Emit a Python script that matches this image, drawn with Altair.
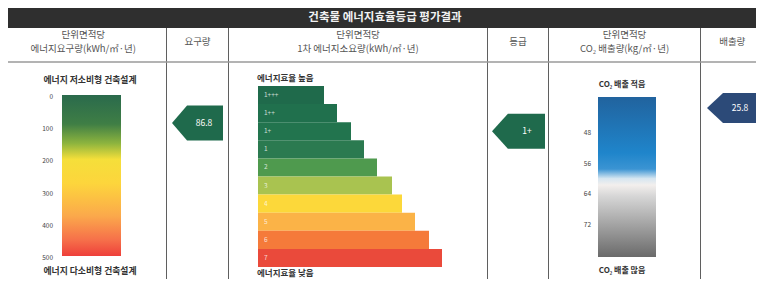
import altair as alt
import pandas as pd

FONT = "Noto Sans CJK KR"

# ---------------- data ----------------
title = "건축물 에너지효율등급 평가결과"
col_headers = [
    ["단위면적당", "에너지요구량(kWh/㎡·년)"],
    ["요구량"],
    ["단위면적당", "1차 에너지소요량(kWh/㎡·년)"],
    ["등급"],
    ["단위면적당", "CO₂ 배출량(kg/㎡·년)"],
    ["배출량"],
]
energy_ticks = [0, 100, 200, 300, 400, 500]
energy_value = 86.8
energy_labels = ["에너지 저소비형 건축설계", "에너지 다소비형 건축설계"]

grades = ["1+++", "1++", "1+", "1", "2", "3", "4", "5", "6", "7"]
grade_value = "1+"
grade_labels = ["에너지효율 높음", "에너지효율 낮음"]

co2_ticks = [48, 56, 64, 72]
co2_value = 25.8
co2_labels = ["CO₂ 배출 적음", "CO₂ 배출 많음"]

# ---------------- styles / layout (reference pixel positions) ----------------
grade_colors = ["#1f6a4b", "#20704d", "#22744e", "#2b7a50", "#4f9a4e",
                "#a9c350", "#fcd83a", "#fbb347", "#f57a3a", "#ea4a3b"]
grade_bar_end = [324, 337, 351, 364, 377, 392, 402, 415, 429, 442]
col_bounds = [0, 166.5, 228.5, 487.5, 548.5, 700.5, 764]
header_line_y = [35, 48.5]
header_single_y = 42

XS = alt.Scale(domain=[8, 756], range=[0, 748])
YL = alt.Scale(domain=[8, 279], range=[0, 271])
YE = alt.Scale(domain=[0, 500], range=[87, 248])
YG = alt.Scale(domain=grades, range=[78, 259], paddingInner=0, paddingOuter=0)
YC = alt.Scale(domain=[38, 80], range=[89, 249])


def xq(f="x"):
    return alt.X(f"{f}:Q", scale=XS, axis=None)


def yq(f, scale, t="Q"):
    return alt.Y(f"{f}:{t}", scale=scale, axis=None)


def text_layer(df, yscale, ytype="Q", **mk):
    base = dict(font=FONT, baseline="middle")
    base.update(mk)
    return alt.Chart(df).mark_text(**base).encode(
        x=xq("x"), y=yq("y", yscale, ytype), text="t:N")


def arrow_path(tip, half_h):
    return (f"M -1 0 L {tip} {-half_h} L 1 {-half_h} L 1 {half_h} "
            f"L {tip} {half_h} Z")


# ---------------- layout group ----------------
title_bar = alt.Chart(pd.DataFrame({"x": [0], "x2": [760], "y": [5], "y2": [28]})).mark_rect(
    color="#2f2f2f").encode(x=xq("x"), x2=alt.X2("x2"), y=yq("y", YL), y2=alt.Y2("y2"))

title_txt = text_layer(pd.DataFrame({"x": [385], "y": [18], "t": [title]}), YL,
                       align="center", fontSize=11.5, color="#f2f2f2", fontWeight="bold")

hx, hy, ht = [], [], []
for i, lines in enumerate(col_headers):
    cx = (col_bounds[i] + col_bounds[i + 1]) / 2
    ys = header_line_y if len(lines) == 2 else [header_single_y]
    for ln, yv in zip(lines, ys):
        hx.append(cx)
        hy.append(yv)
        ht.append(ln)
header_txt = text_layer(pd.DataFrame({"x": hx, "y": hy, "t": ht}), YL,
                        align="center", fontSize=9.5, color="#555555")

vlines = alt.Chart(pd.DataFrame({"x": col_bounds[1:-1], "y": [28] * 5, "y2": [287] * 5})).mark_rule(
    color="#5f5f5f", strokeWidth=1).encode(x=xq("x"), y=yq("y", YL), y2=alt.Y2("y2"))

hline = alt.Chart(pd.DataFrame({"x": [0], "x2": [764], "y": [62]})).mark_rule(
    color="#9a9a9a", strokeWidth=1.5).encode(x=xq("x"), x2=alt.X2("x2"), y=yq("y", YL))

side_labels = text_layer(pd.DataFrame({
    "x": [90, 90], "y": [80, 271], "t": energy_labels}), YL,
    align="center", fontSize=8.8, color="#333333", fontWeight="bold")

co2_side = text_layer(pd.DataFrame({
    "x": [622, 622], "y": [85, 271], "t": co2_labels}), YL,
    align="center", fontSize=8, color="#333333", fontWeight="bold")

grade_side = text_layer(pd.DataFrame({
    "x": [257, 257], "y": [78, 273], "t": grade_labels}), YL,
    align="left", fontSize=8.5, color="#333333", fontWeight="bold")

co2_arrow = alt.Chart(pd.DataFrame({"x": [732], "y": [108]})).mark_point(
    shape=arrow_path(-0.36, 0.6), size=2500, filled=True, color="#2c4a78",
    opacity=1, strokeWidth=0).encode(x=xq("x"), y=yq("y", YL))
co2_arrow_txt = text_layer(pd.DataFrame({"x": [740], "y": [108], "t": [f"{co2_value}"]}), YL,
                           align="center", fontSize=8.5, color="white")

layout_group = alt.layer(title_bar, title_txt, header_txt, vlines, hline,
                         side_labels, co2_side, grade_side, co2_arrow, co2_arrow_txt)

# ---------------- energy demand gradient ----------------
energy_grad = {
    "gradient": "linear", "x1": 0, "x2": 0, "y1": 0, "y2": 1,
    "stops": [
        {"offset": 0.0, "color": "#2a6a4c"},
        {"offset": 0.18, "color": "#3f7e45"},
        {"offset": 0.30, "color": "#8db43e"},
        {"offset": 0.40, "color": "#f5df3a"},
        {"offset": 0.55, "color": "#fdd53c"},
        {"offset": 0.75, "color": "#fba94b"},
        {"offset": 0.90, "color": "#f6704a"},
        {"offset": 1.0, "color": "#ee3f3a"},
    ],
}
e_rect = alt.Chart(pd.DataFrame({"lo": [energy_ticks[0]], "hi": [energy_ticks[-1]],
                                 "x": [62], "x2": [121]})).mark_rect(fill=energy_grad).encode(
    x=xq("x"), x2=alt.X2("x2"), y=yq("lo", YE), y2=alt.Y2("hi"))
e_ticks = alt.Chart(pd.DataFrame({"y": energy_ticks, "x": [53] * len(energy_ticks),
                                  "t": [str(v) for v in energy_ticks]})).mark_text(
    font=FONT, baseline="middle", align="right", fontSize=6.5, color="#444444", dy=2).encode(
    x=xq("x"), y=yq("y", YE), text="t:N")
e_arrow = alt.Chart(pd.DataFrame({"y": [energy_value], "x": [197.5]})).mark_point(
    shape=arrow_path(-0.41, 0.686), size=2601, filled=True, color="#1f6a4c",
    opacity=1, strokeWidth=0).encode(x=xq("x"), y=yq("y", YE))
e_arrow_txt = alt.Chart(pd.DataFrame({"y": [energy_value], "x": [204], "t": [f"{energy_value}"]})).mark_text(
    font=FONT, baseline="middle", align="center", fontSize=8.5, color="white").encode(
    x=xq("x"), y=yq("y", YE), text="t:N")
energy_group = alt.layer(e_rect, e_ticks, e_arrow, e_arrow_txt)

# ---------------- grade staircase ----------------
g_df = pd.DataFrame({"g": grades, "x": [258] * len(grades), "x2": grade_bar_end,
                     "c": grade_colors, "lx": [264] * len(grades)})
g_bars = alt.Chart(g_df).mark_rect().encode(
    x=xq("x"), x2=alt.X2("x2"), y=alt.Y("g:N", scale=YG, axis=None),
    color=alt.Color("c:N", scale=None))
g_txt = alt.Chart(g_df).mark_text(font=FONT, baseline="middle", align="left", fontSize=6.5,
                                  color="white", opacity=0.75).encode(
    x=xq("lx"), y=alt.Y("g:N", scale=YG, axis=None), text="g:N")
g_arrow = alt.Chart(pd.DataFrame({"g": [grade_value], "x": [518.5]})).mark_point(
    shape=arrow_path(-0.4, 0.66), size=2809, filled=True, color="#1f6a4c",
    opacity=1, strokeWidth=0).encode(x=xq("x"), y=alt.Y("g:N", scale=YG, axis=None))
g_arrow_txt = alt.Chart(pd.DataFrame({"g": [grade_value], "x": [527], "t": [grade_value]})).mark_text(
    font=FONT, baseline="middle", align="center", fontSize=8.5, color="white").encode(
    x=xq("x"), y=alt.Y("g:N", scale=YG, axis=None), text="t:N")
grade_group = alt.layer(g_bars, g_txt, g_arrow, g_arrow_txt)

# ---------------- CO2 gradient ----------------
co2_grad = {
    "gradient": "linear", "x1": 0, "x2": 0, "y1": 0, "y2": 1,
    "stops": [
        {"offset": 0.0, "color": "#21639e"},
        {"offset": 0.35, "color": "#1f85cb"},
        {"offset": 0.45, "color": "#3b94d3"},
        {"offset": 0.51, "color": "#d6e6f1"},
        {"offset": 0.55, "color": "#f3efed"},
        {"offset": 0.62, "color": "#d6d6d6"},
        {"offset": 1.0, "color": "#6a6a6a"},
    ],
}
c_rect = alt.Chart(pd.DataFrame({"lo": [38], "hi": [80], "x": [598], "x2": [656]})).mark_rect(
    fill=co2_grad).encode(x=xq("x"), x2=alt.X2("x2"), y=yq("lo", YC), y2=alt.Y2("hi"))
c_ticks = alt.Chart(pd.DataFrame({"y": co2_ticks, "x": [591] * len(co2_ticks),
                                  "t": [str(v) for v in co2_ticks]})).mark_text(
    font=FONT, baseline="middle", align="right", fontSize=6.5, color="#444444", dy=-2).encode(
    x=xq("x"), y=yq("y", YC), text="t:N")
co2_group = alt.layer(c_rect, c_ticks)

chart = alt.layer(layout_group, energy_group, grade_group, co2_group).resolve_scale(
    y="independent"
).properties(
    width=748, height=271, padding=0,
    autosize=alt.AutoSizeParams(type="none"), background="white"
).configure_view(strokeWidth=0)

chart.save("out.html", embed_options={"renderer": "svg", "actions": False})
